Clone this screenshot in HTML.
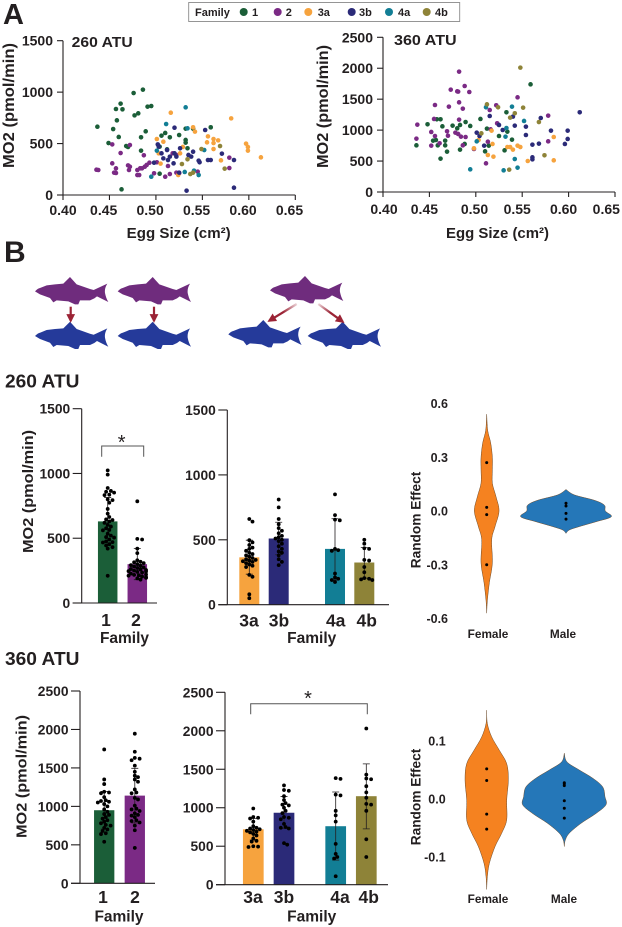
<!DOCTYPE html>
<html lang="en">
<head>
<meta charset="utf-8">
<title>MO2 vs egg size by family</title>
<style>
html,body{margin:0;padding:0;background:#fff;width:622px;height:927px;overflow:hidden}
svg{display:block}
text{font-family:"Liberation Sans",sans-serif;font-weight:700;fill:#231f20}
</style>
</head>
<body>
<svg id="fig" xmlns="http://www.w3.org/2000/svg" width="622" height="927" viewBox="0 0 622 927">
<defs>
<path id="fish" d="M0,43 C6,37 10,34 15,33 L35,25 L60,22 L85,20 L105,0 L125,22 L165,36 L176,39 L217,20 C211,30 209,38 210,48 C212,58 215,67 220,75 L186,58 L178,64 L165,70 L135,70 L130,82 L120,82 L100,73 L65,70 L55,76 L45,63 L15,52 Z"/>
<marker id="arrow-head" markerWidth="4" markerHeight="4" refX="3" refY="2" orient="auto"><path d="M0,0 L4,2 L0,4 Z" fill="#9b2335"/></marker>
<linearGradient id="arrow-a" gradientUnits="userSpaceOnUse" x1="296.7" y1="304" x2="269.3" y2="320.7"><stop offset="0" stop-color="#9b2335" stop-opacity="0.2"/><stop offset="0.5" stop-color="#9b2335"/></linearGradient>
<linearGradient id="arrow-b" gradientUnits="userSpaceOnUse" x1="318.3" y1="304" x2="342.7" y2="321.7"><stop offset="0" stop-color="#9b2335" stop-opacity="0.2"/><stop offset="0.5" stop-color="#9b2335"/></linearGradient>
</defs>

<text x="3" y="24" font-size="29">A</text>
<text x="4" y="262" font-size="30">B</text>

<g>
<rect x="188.7" y="2.5" width="271" height="19" fill="#fff" stroke="#8a8a8a" stroke-width="0.9"/>
<text x="195" y="16" font-size="11">Family</text>
<circle cx="243.7" cy="12" r="4" fill="#1b5e38"/><text x="252" y="16" font-size="11">1</text>
<circle cx="277.7" cy="12" r="4" fill="#7b2a85"/><text x="285.7" y="16" font-size="11">2</text>
<circle cx="308.3" cy="12" r="4" fill="#f6a33e"/><text x="317.7" y="16" font-size="11">3a</text>
<circle cx="351.7" cy="12" r="4" fill="#2b2a78"/><text x="359" y="16" font-size="11">3b</text>
<circle cx="389" cy="12" r="4" fill="#127e95"/><text x="398" y="16" font-size="11">4a</text>
<circle cx="426.7" cy="12" r="4" fill="#8e8338"/><text x="435" y="16" font-size="11">4b</text>
</g>

<text x="71.7" y="47" font-size="15" textLength="61" lengthAdjust="spacingAndGlyphs">260 ATU</text>
<text x="394" y="45" font-size="15" textLength="62.7" lengthAdjust="spacingAndGlyphs">360 ATU</text>
<text transform="translate(14,168) rotate(-90)" font-size="15.5" textLength="125" lengthAdjust="spacingAndGlyphs">MO2 (pmol/min)</text>
<text transform="translate(328,168) rotate(-90)" font-size="15.5" textLength="123" lengthAdjust="spacingAndGlyphs">MO2 (pmol/min)</text>
<text x="126.7" y="238" font-size="15" textLength="104" lengthAdjust="spacingAndGlyphs">Egg Size (cm²)</text>
<text x="446" y="238" font-size="15" textLength="103" lengthAdjust="spacingAndGlyphs">Egg Size (cm²)</text>

<g>
<use href="#fish" fill="#6f2c7d" transform="translate(35,277) scale(.3333)"/>
<use href="#fish" fill="#6f2c7d" transform="translate(117.7,277) scale(.3333)"/>
<use href="#fish" fill="#6f2c7d" transform="translate(270,276) scale(.3333)"/>
<use href="#fish" fill="#253a9a" transform="translate(35,321.7) scale(.3333)"/>
<use href="#fish" fill="#253a9a" transform="translate(117.7,321.7) scale(.3333)"/>
<use href="#fish" fill="#253a9a" transform="translate(228.3,320) scale(.3333)"/>
<use href="#fish" fill="#253a9a" transform="translate(307.7,321.7) scale(.3333)"/>
<line x1="70.7" y1="306.7" x2="70.7" y2="320.7" stroke="#9b2335" stroke-width="2.2" marker-end="url(#arrow-head)"/>
<line x1="154" y1="306.7" x2="154" y2="320.7" stroke="#9b2335" stroke-width="2.2" marker-end="url(#arrow-head)"/>
<line x1="296.7" y1="304" x2="269.3" y2="320.7" stroke="url(#arrow-a)" stroke-width="2.2" marker-end="url(#arrow-head)"/>
<line x1="318.3" y1="304" x2="342.7" y2="321.7" stroke="url(#arrow-b)" stroke-width="2.2" marker-end="url(#arrow-head)"/>
</g>

<text x="5" y="387.7" font-size="18" textLength="74.5" lengthAdjust="spacingAndGlyphs">260 ATU</text>
<text x="5" y="665" font-size="18" textLength="74.5" lengthAdjust="spacingAndGlyphs">360 ATU</text>

<text transform="translate(33,553) rotate(-90)" font-size="15" textLength="123" lengthAdjust="spacingAndGlyphs">MO2 (pmol/min)</text>
<text transform="translate(26.7,838) rotate(-90)" font-size="15" textLength="123" lengthAdjust="spacingAndGlyphs">MO2 (pmol/min)</text>

<text x="124.5" y="643" font-size="15.5" text-anchor="middle">Family</text>
<text x="311.7" y="643" font-size="15.5" text-anchor="middle">Family</text>
<text x="119" y="921.5" font-size="15.5" text-anchor="middle">Family</text>
<text x="311.7" y="921.5" font-size="15.5" text-anchor="middle">Family</text>

<g>
<path d="M101.7,456.7 V446 H143.7 V456.7" fill="none" stroke="#555" stroke-width="1"/>
<text x="121.7" y="449" font-size="20" text-anchor="middle" style="font-weight:400">*</text>
</g>
<g>
<path d="M250.7,714.3 V703.7 H367.3 V714.3" fill="none" stroke="#555" stroke-width="1"/>
<text x="308" y="705" font-size="20" text-anchor="middle" style="font-weight:400">*</text>
</g>

<text transform="translate(420.7,520) rotate(-90)" font-size="13.7" text-anchor="middle">Random Effect</text>
<text transform="translate(420.7,797) rotate(-90)" font-size="13.7" text-anchor="middle">Random Effect</text>
<text x="488" y="638" font-size="11.8" text-anchor="middle">Female</text>
<text x="563" y="638" font-size="11.8" text-anchor="middle">Male</text>
<text x="488" y="903" font-size="11.8" text-anchor="middle">Female</text>
<text x="564" y="903" font-size="11.8" text-anchor="middle">Male</text>
</svg>

<script>
// ---------- family metadata ----------
const families = ['1','2','3a','3b','4a','4b'];
const familyColors = ['#1b5e38','#7b2a85','#f6a33e','#2b2a78','#127e95','#8e8338'];

// ---------- scatter data: [egg size, MO2] ----------
const scatter260_1 = [[.437,664],[.454,641],[.460,564],[.449,505],[.462,888],[.457,836],[.464,833],[.458,726],[.476,991],[.486,1024],[.477,774],[.481,794],[.491,859],[.495,865],[.489,619],[.484,561],[.468,476],[.470,467],[.484,431],[.463,55],[.506,577],[.510,603],[.515,561],[.525,583],[.532,645],[.540,645],[.532,535],[.532,509],[.504,470],[.512,444],[.534,454],[.504,207],[.559,658]];
const scatter260_2 = [[.436,246],[.438,243],[.453,492],[.462,408],[.472,486],[.487,386],[.453,308],[.457,259],[.455,217],[.457,214],[.470,288],[.471,243],[.472,275],[.480,243],[.483,259],[.480,194],[.482,194],[.485,259],[.488,275],[.490,292],[.493,314],[.498,211],[.510,178],[.515,204],[.513,282],[.518,405],[.522,389],[.522,217],[.525,211],[.545,227],[.579,363],[.579,262],[.501,318]];
const scatter260_3a = [[.516,800],[.581,745],[.501,544],[.508,518],[.540,658],[.542,616],[.556,570],[.555,512],[.562,544],[.567,531],[.562,505],[.562,447],[.597,499],[.599,467],[.599,431],[.613,366],[.570,337],[.505,305],[.503,405],[.526,405],[.529,467],[.524,194]];
const scatter260_3b = [[.502,492],[.503,470],[.520,654],[.553,632],[.498,314],[.506,405],[.508,356],[.513,340],[.519,308],[.520,405],[.522,373],[.526,454],[.535,389],[.538,373],[.540,421],[.546,334],[.547,318],[.556,340],[.559,340],[.571,402],[.584,340],[.584,71],[.533,42],[.525,217],[.515,373],[.512,437]];
const scatter260_4a = [[.511,690],[.532,852],[.534,648],[.501,431],[.495,178],[.531,224],[.541,237],[.546,194],[.552,437]];
const scatter260_4b = [[.528,301],[.534,347],[.537,204],[.540,217],[.569,476],[.574,256],[.549,447]];

const scatter360_1 = [[.436,754],[.448,1094],[.454,830],[.457,840],[.462,1175],[.458,1175],[.464,1061],[.459,754],[.467,830],[.467,754],[.469,652],[.462,539],[.475,1072],[.480,1029],[.483,1083],[.489,1131],[.494,1067],[.483,684],[.488,776],[.505,1180],[.512,1024],[.510,657],[.514,749],[.533,1288],[.525,905],[.534,975],[.539,846],[.531,673],[.559,1740]];
const scatter360_2 = [[.436,862],[.437,1088],[.456,1406],[.455,1180],[.452,970],[.456,905],[.452,749],[.461,787],[.469,981],[.470,910],[.471,1379],[.473,1654],[.480,1627],[.481,1622],[.482,1945],[.482,1449],[.488,1713],[.493,1616],[.486,1347],[.482,1169],[.478,959],[.481,938],[.484,894],[.489,889],[.486,754],[.498,695],[.511,463],[.515,1325],[.516,1013],[.513,813],[.522,1401],[.523,1110],[.545,1530],[.578,1234],[.578,819]];
const scatter360_3a = [[.498,706],[.503,840],[.518,776],[.513,598],[.519,571],[.534,727],[.537,727],[.540,684],[.545,749],[.548,727],[.556,501],[.584,889],[.584,512],[.517,991]];
const scatter360_3b = [[.501,959],[.504,905],[.509,749],[.515,1228],[.525,1083],[.529,1002],[.540,1218],[.542,1072],[.554,1056],[.554,921],[.561,765],[.568,781],[.570,1196],[.561,560],[.561,528],[.581,991],[.599,991],[.599,857],[.596,776],[.612,1288]];
const scatter360_4a = [[.494,366],[.501,819],[.511,1369],[.530,350],[.532,894],[.533,1034],[.539,1379],[.542,533],[.545,393],[.552,1148]];
const scatter360_4b = [[.512,1417],[.524,1369],[.506,948],[.537,1202],[.542,1272],[.551,1363],[.548,2010],[.568,1131],[.574,593],[.536,361]];

// ---------- axis ticks ----------
const eggSizeTicks = ['0.40','0.45','0.50','0.55','0.60','0.65'];
const mo2Ticks1500 = ['0','500','1000','1500'];
const mo2Ticks2500 = ['0','500','1000','1500','2000','2500'];

// ---------- bar summaries ----------
const bar260Means = {f1:630,f2:300,f3a:365,f3b:510,f4a:430,f4b:325};
const bar260Upper = {f1:815,f2:420,f3a:497,f3b:635,f4a:662,f4b:440};
const bar260Lower = {f1:445,f2:180,f3a:235,f3b:385,f4a:190,f4b:205};
const bar360Means = {f1:950,f2:1140,f3a:720,f3b:935,f4a:760,f4b:1150};
const bar360Upper = {f1:1195,f2:1495,f3a:860,f3b:1145,f4a:1205,f4b:1570};
const bar360Lower = {f1:705,f2:785,f3a:580,f3b:730,f4a:320,f4b:725};

// ---------- individual measurements over bars ----------
const dots260_1 = [1024,991,888,865,859,852,836,833,800,794,774,726,690,664,645,641,630,619,603,590,577,564,561,535,520,509,505,490,476,470,467,454,444,431,420,210];
const dots260_2 = [785,495,490,420,385,330,318,314,308,300,292,288,282,275,270,262,259,255,250,246,243,240,235,227,220,217,214,211,204,200,194,190,180];
const dots260_3a = [660,640,497,480,460,440,430,415,400,390,380,370,360,350,345,340,335,330,320,310,300,290,230,215,80,50];
const dots260_3b = [810,750,660,620,590,570,550,530,520,510,500,490,470,450,430,410,400,380,350,330,305];
const dots260_4a = [850,690,655,650,430,420,415,240,210,200,190,175];
const dots260_4b = [500,470,435,430,345,340,290,250,205,200,195,190];
const dots360_1 = [1740,1350,1290,1190,1180,1170,1120,1080,1070,1060,1050,1030,1000,960,930,900,890,860,840,820,800,780,760,750,720,700,680,650,640,540];
const dots360_2 = [1945,1710,1630,1620,1600,1530,1450,1400,1380,1350,1320,1220,1180,1170,1110,1090,1010,970,960,940,910,890,880,860,820,810,790,750,690,460];
const dots360_3a = [990,880,870,860,820,760,740,730,720,710,700,690,680,660,640,600,570,560,500,495,490];
const dots360_3b = [1290,1230,1220,1150,1100,1060,1040,1030,1000,960,930,880,870,850,790,750,740,730,540,520];
const dots360_4a = [1385,1375,1170,1160,960,900,820,530,400,360,340,110];
const dots360_4b = [2030,1430,1380,1370,1280,1200,1130,1050,1040,960,590,360];

// ---------- violins: effect values and density widths ----------
const violinTicks260 = ['0.6','0.3','0.0','-0.3','-0.6'];
const violinTickValues260 = [0.6,0.3,0,-0.3,-0.6];
const violinTicks360 = ['0.1','0.0','-0.1'];
const violinTickValues360 = [0.1,0,-0.1];
const female260Grid = [.54,.45,.38,.30,.23,.155,.08,0,-.087,-.16,-.29,-.40,-.5,-.57];
const female260Density = [0,3,12,17,17,17,28,37,25,15,17,8,2,0];
const female260Points = [.27,.02,-.02,-.30];
const male260Grid = [.12,.09,.06,.033,0,-.032,-.06,-.087,-.106,-.125];
const male260Density = [0,25,85,115,118,136,90,40,10,0];
const male260Points = [.043,.028,-.013,-.045];
const female360Grid = [.153,.13,.107,.084,.061,.033,-.002,-.036,-.059,-.082,-.111,-.134,-.156];
const female360Density = [0,2,15,38,60,65,60,60,45,25,8,2,0];
const female360Points = [.052,.032,-.026,-.052];
const male360Grid = [.079,.064,.05,.036,.021,.004,-.01,-.025,-.042,-.059,-.071,-.082];
const male360Density = [0,8,45,85,115,122,125,95,50,15,3,0];
const male360Points = [.028,.026,.023,-.003,-.016,-.033];

// ---------- helpers ----------
const svg = document.getElementById('fig');
const NS = 'http://www.w3.org/2000/svg';
function mk(tag, attrs, parent){
  const e = document.createElementNS(NS, tag);
  for (const k in attrs) e.setAttribute(k, attrs[k]);
  (parent || svg).appendChild(e);
  return e;
}
function linear(d0, d1, r0, r1){ return v => r0 + (v - d0) * (r1 - r0) / (d1 - d0); }

// ---------- scatter ----------
function drawScatter(name, seriesList, opts){
  const g = mk('g', {});
  
  
  const xs = linear(0.40, 0.65, opts.x0, opts.x1);
  const ys = linear(0, opts.yMax, opts.y0, opts.y1);
  const yAxis = mk('line', {x1:opts.x0, x2:opts.x0, y1:opts.y0, y2:opts.y1, stroke:'#231f20', 'stroke-width':1.1}, g);
  
  
  const xAxis = mk('line', {x1:opts.x0, x2:opts.x1, y1:opts.y0, y2:opts.y0, stroke:'#231f20', 'stroke-width':1.1}, g);
  
  
  opts.yTicks.forEach(t => {
    const y = ys(+t);
    const tick = mk('line', {x1:opts.x0 - 6, x2:opts.x0, y1:y, y2:y, stroke:'#231f20', 'stroke-width':1.1}, g);
    
    
    const lab = mk('text', {x:opts.x0 - 10, y:y + 5, 'font-size':14, 'text-anchor':'end'}, g);
    
    
    lab.textContent = t;
  });
  eggSizeTicks.forEach((t, i) => {
    const x = xs(+t);
    const tick = mk('line', {x1:x, x2:x, y1:opts.y0, y2:opts.y0 + 5, stroke:'#231f20', 'stroke-width':1.1}, g);
    
    
    // the source figure's labels sit left of their ticks
    const lab = mk('text', {x:x + opts.labelNudge(i), y:opts.labelY, 'font-size':14, 'text-anchor':'middle'}, g);
    
    
    lab.textContent = t;
  });
  seriesList.forEach((pts, i) => {
    pts.forEach(p => {
      const c = mk('circle', {cx:xs(p[0]), cy:ys(p[1]), r:2.3, fill:familyColors[i]}, g);
      
      
    });
  });
}
drawScatter('scatter-260-atu', [scatter260_1,scatter260_2,scatter260_3a,scatter260_3b,scatter260_4a,scatter260_4b],
  {x0:63, x1:295.3, y0:195, y1:40.7, yMax:1500, yTicks:mo2Ticks1500, labelY:215,
   labelNudge: i => i === 0 ? 0 : -5.8});
drawScatter('scatter-360-atu', [scatter360_1,scatter360_2,scatter360_3a,scatter360_3b,scatter360_4a,scatter360_4b],
  {x0:383, x1:615, y0:192, y1:37.3, yMax:2500, yTicks:mo2Ticks2500, labelY:214,
   labelNudge: i => i === 0 ? 1 : (i === 2 ? -1.3 : (i === 5 ? -8.7 : -5))});

// ---------- bars with beeswarm dots ----------
function drawBars(name, opts){
  const g = mk('g', {});
  
  
  const ys = linear(0, opts.yMax, opts.y0, opts.y1);
  opts.bars.forEach(b => {
    const rect = mk('rect', {x:b.cx - b.w/2, y:ys(b.mean), width:b.w, height:opts.y0 - ys(b.mean), fill:familyColors[b.fam]}, g);
    
    
    const err = mk('path', {d:'M'+b.cx+','+ys(b.lower)+' V'+ys(b.upper)+' M'+(b.cx-3.5)+','+ys(b.upper)+' H'+(b.cx+3.5)+' M'+(b.cx-3.5)+','+ys(b.lower)+' H'+(b.cx+3.5), fill:'none', stroke:'#231f20', 'stroke-width':0.8}, g);
    
    
    // beeswarm: nudge each dot to the nearest free horizontal slot
    const r = 1.9, placed = [];
    b.dots.forEach(v => {
      const y = ys(v);
      let off = 0;
      for (let k = 0; k < 40; k++) {
        off = (k % 2 ? 1 : -1) * Math.ceil(k / 2) * 1.6;
        if (!placed.some(p => Math.hypot(p[0] - off, p[1] - y) < 3.4)) break;
      }
      off = Math.max(-b.w/2 + 1, Math.min(b.w/2 - 1, off));
      placed.push([off, y]);
      const c = mk('circle', {cx:b.cx + off, cy:y, r:r, fill:'#000'}, g);
      
      
    });
    const lab = mk('text', {x:b.labelX, y:opts.labelY, 'font-size':17.5, 'text-anchor':'middle'}, g);
    
    
    lab.textContent = families[b.fam];
  });
  const yAxis = mk('line', {x1:opts.axisX, x2:opts.axisX, y1:opts.y0, y2:opts.y1, stroke:'#231f20', 'stroke-width':1.1}, g);
  
  
  const xAxis = mk('line', {x1:opts.axisX - 9, x2:opts.xEnd, y1:opts.y0, y2:opts.y0, stroke:'#231f20', 'stroke-width':1.1}, g);
  
  
  opts.yTicks.forEach(t => {
    const y = ys(+t);
    const tick = mk('line', {x1:opts.axisX - 9, x2:opts.axisX, y1:y, y2:y, stroke:'#231f20', 'stroke-width':1.1}, g);
    
    
    const lab = mk('text', {x:opts.axisX - 11.5, y:y + 5, 'font-size':13.8, 'text-anchor':'end'}, g);
    
    
    lab.textContent = t;
  });
}
drawBars('bar-chart-260-families-1-2', {axisX:81.7, xEnd:157, y0:603, y1:408.7, yMax:1500, yTicks:mo2Ticks1500, labelY:626, bars:[
  {fam:0, cx:107.7, w:19.5, labelX:106, mean:bar260Means.f1, upper:bar260Upper.f1, lower:bar260Lower.f1, dots:dots260_1},
  {fam:1, cx:137.3, w:19.5, labelX:136, mean:bar260Means.f2, upper:bar260Upper.f2, lower:bar260Lower.f2, dots:dots260_2}]});
drawBars('bar-chart-260-families-3-4', {axisX:227.3, xEnd:389, y0:604.7, y1:410, yMax:1500, yTicks:mo2Ticks1500, labelY:626.7, bars:[
  {fam:2, cx:249.3, w:20, labelX:249, mean:bar260Means.f3a, upper:bar260Upper.f3a, lower:bar260Lower.f3a, dots:dots260_3a},
  {fam:3, cx:278.7, w:20, labelX:279, mean:bar260Means.f3b, upper:bar260Upper.f3b, lower:bar260Lower.f3b, dots:dots260_3b},
  {fam:4, cx:335, w:20, labelX:335.7, mean:bar260Means.f4a, upper:bar260Upper.f4a, lower:bar260Lower.f4a, dots:dots260_4a},
  {fam:5, cx:364.3, w:20, labelX:366.7, mean:bar260Means.f4b, upper:bar260Upper.f4b, lower:bar260Lower.f4b, dots:dots260_4b}]});
drawBars('bar-chart-360-families-1-2', {axisX:80, xEnd:155, y0:883.3, y1:691, yMax:2500, yTicks:mo2Ticks2500, labelY:903, bars:[
  {fam:0, cx:104.2, w:20.3, labelX:103, mean:bar360Means.f1, upper:bar360Upper.f1, lower:bar360Lower.f1, dots:dots360_1},
  {fam:1, cx:134.8, w:20.3, labelX:135, mean:bar360Means.f2, upper:bar360Upper.f2, lower:bar360Lower.f2, dots:dots360_2}]});
drawBars('bar-chart-360-families-3-4', {axisX:225, xEnd:388, y0:884.7, y1:692.3, yMax:2500, yTicks:mo2Ticks2500, labelY:903, bars:[
  {fam:2, cx:253.3, w:20.7, labelX:253, mean:bar360Means.f3a, upper:bar360Upper.f3a, lower:bar360Lower.f3a, dots:dots360_3a},
  {fam:3, cx:284, w:20.7, labelX:284, mean:bar360Means.f3b, upper:bar360Upper.f3b, lower:bar360Lower.f3b, dots:dots360_3b},
  {fam:4, cx:335.7, w:20.7, labelX:340, mean:bar360Means.f4a, upper:bar360Upper.f4a, lower:bar360Lower.f4a, dots:dots360_4a},
  {fam:5, cx:366.3, w:20.7, labelX:368.7, mean:bar360Means.f4b, upper:bar360Upper.f4b, lower:bar360Lower.f4b, dots:dots360_4b}]});

// ---------- violins ----------
function smoothPath(pts){
  let d = '';
  for (let i = 0; i < pts.length - 1; i++) {
    const p0 = pts[Math.max(i-1,0)], p1 = pts[i], p2 = pts[i+1], p3 = pts[Math.min(i+2,pts.length-1)];
    if (i === 0) d += 'M' + p1[0] + ',' + p1[1];
    d += ' C' + (p1[0]+(p2[0]-p0[0])/6) + ',' + (p1[1]+(p2[1]-p0[1])/6) + ' ' + (p2[0]-(p3[0]-p1[0])/6) + ',' + (p2[1]-(p3[1]-p1[1])/6) + ' ' + p2[0] + ',' + p2[1];
  }
  return d;
}
function drawViolin(name, grid, density, points, cx, ys, fill){
  const g = mk('g', {});
  
  
  const right = grid.map((v,i) => [cx + density[i]/3, ys(v)]);
  const left = grid.map((v,i) => [cx - density[i]/3, ys(v)]).reverse();
  const d = smoothPath(right) + ' ' + smoothPath(left).replace(/^M[^ ]+/, '') + ' Z';
  const body = mk('path', {d:d, fill:fill, stroke:'#6b4a2a', 'stroke-width':0.5}, g);
  
  
  points.forEach(v => {
    const c = mk('circle', {cx:cx, cy:ys(v), r:1.5, fill:'#000'}, g);
    
    
  });
}
const violinY260 = linear(0, 0.3, 511, 457.25);
const violinY360 = linear(0, 0.1, 799, 741);
drawViolin('violin-260-female', female260Grid, female260Density, female260Points, 486.7, violinY260, '#f58220');
drawViolin('violin-260-male', male260Grid, male260Density, male260Points, 566, violinY260, '#2577b8');
drawViolin('violin-360-female', female360Grid, female360Density, female360Points, 486.7, violinY360, '#f58220');
drawViolin('violin-360-male', male360Grid, male360Density, male360Points, 564.3, violinY360, '#2577b8');

violinTicks260.forEach((t,i) => {
  const lab = mk('text', {x:448, y:violinY260(violinTickValues260[i]) + 4.5, 'font-size':12.5, 'text-anchor':'end'});
  
  
  lab.textContent = t;
});
violinTicks360.forEach((t,i) => {
  const lab = mk('text', {x:445.7, y:violinY360(violinTickValues360[i]) + 4.5, 'font-size':12.5, 'text-anchor':'end'});
  
  
  lab.textContent = t;
});
</script>
</body>
</html>
